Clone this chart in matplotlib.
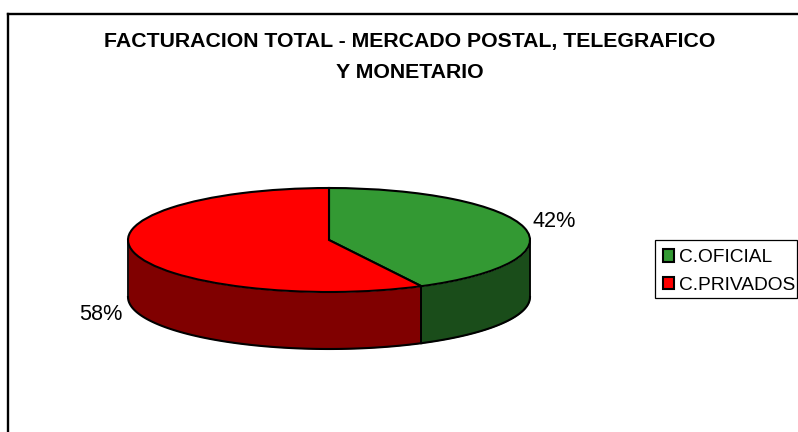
import numpy as np
import matplotlib
matplotlib.use("Agg")
import matplotlib.pyplot as plt
from matplotlib.lines import Line2D
from matplotlib.patches import Rectangle

plt.rcParams['font.family'] = ['Liberation Sans', 'DejaVu Sans']

title = "FACTURACION TOTAL - MERCADO POSTAL, TELEGRAFICO\nY MONETARIO"
categories = ["C.OFICIAL", "C.PRIVADOS"]
values = [42.4, 57.6]
top_colors = ["#339933", "#ff0000"]
side_colors = ["#1a4d1a", "#800000"]

W, H = 798, 432
fig = plt.figure(figsize=(W / 100, H / 100), dpi=100)
ax = fig.add_axes([0, 0, 1, 1])

# pie top, squashed by the axes limits below
wedges, _ = ax.pie(values, colors=top_colors, startangle=90, counterclock=False,
                   wedgeprops=dict(edgecolor="black", linewidth=1.5, zorder=3))

# px per data unit
cx, cy, rx, ry, depth = 329, 240, 201, 52, 57
ax.set_aspect("auto")
ax.set_xlim(-cx / rx, (W - cx) / rx)
ax.set_ylim((cy - H) / ry, cy / ry)
d = depth / ry

# side wall, only the front half is visible
start = 0
for val, col in zip(values, side_colors):
    end = start + val / sum(values) * 360
    a = max(start, 90)
    b = min(end, 270)
    t = np.radians(np.linspace(a, b, 100))
    ax.fill_between(np.sin(t), np.cos(t), np.cos(t) - d, color=col, lw=0, zorder=1)
    ax.plot(np.sin(t), np.cos(t) - d, color="black", lw=1.5, zorder=2)
    for p in (a, b):
        r = np.radians(p)
        ax.plot([np.sin(r)] * 2, [np.cos(r), np.cos(r) - d], color="black", lw=1.3, zorder=2)
    start = end
ax.axis("off")

def fx(px):
    return px / W

def fy(px):
    return 1 - px / H

# outer frame, right and bottom sides are cut off in the picture
fig.add_artist(Line2D([fx(8.3), fx(8.3)], [0, fy(14.3)], color="black", lw=1.7))
fig.add_artist(Line2D([fx(7.5), 1], [fy(14.3), fy(14.3)], color="black", lw=1.7))

fig.text(fx(410), fy(57.5), title, ha="center", va="center", fontsize=15.3,
         fontweight="bold", linespacing=1.8)
fig.text(fx(554.5), fy(222), f"{values[0]:.0f}%", ha="center", va="center", fontsize=15.6)
fig.text(fx(101), fy(314), f"{values[1]:.0f}%", ha="center", va="center", fontsize=15.6)

# legend box drawn by hand, the text nearly touches its right side
fig.add_artist(Rectangle((fx(654.5), fy(298)), 142 / W, 58 / H, transform=fig.transFigure,
                         facecolor="white", edgecolor="black", lw=0.9))
leg = fig.legend(wedges, categories, loc="upper left",
                 bbox_to_anchor=(fx(654.5), fy(241)), bbox_transform=fig.transFigure,
                 fontsize=13.8, frameon=False,
                 handlelength=0.62, handleheight=0.62, handletextpad=0.25,
                 labelspacing=0.55, borderpad=0.42, borderaxespad=0)
leg.set_zorder(5)

fig.savefig("out.png", dpi=100)
